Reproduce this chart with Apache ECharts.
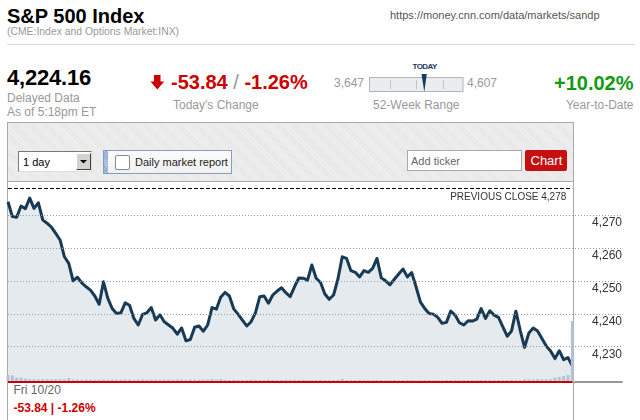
<!DOCTYPE html>
<html><head><meta charset="utf-8">
<script src="https://cdn.jsdelivr.net/npm/echarts@6/dist/echarts.min.js"></script>
<style>
html,body{margin:0;padding:0;background:#fff;}
body{width:640px;height:420px;overflow:hidden;position:relative;font-family:Arial,"Liberation Sans",sans-serif;}
.a{position:absolute;white-space:nowrap;line-height:1;}
#chart{position:absolute;left:0;top:0;width:640px;height:420px;}
</style></head><body>
<script>
// ---- data ----
const prices = [
 4274.0, 4269.5, 4269.3, 4272.7, 4271.9, 4275.1, 4272.0, 4273.7, 4268.5, 4267.5,
 4266.3, 4264.4, 4262.4, 4257.3, 4255.3, 4250.0, 4251.1, 4249.4, 4248.2, 4247.2,
 4245.4, 4242.9, 4249.7, 4244.7, 4241.6, 4240.1, 4240.3, 4243.3, 4242.6, 4238.6,
 4236.6, 4239.8, 4240.3, 4241.9, 4238.1, 4239.7, 4237.6, 4236.6, 4235.6, 4233.8,
 4235.7, 4231.8, 4232.2, 4235.9, 4236.3, 4234.7, 4236.6, 4241.9, 4241.4, 4245.0,
 4246.5, 4245.4, 4241.5, 4239.9, 4238.1, 4236.3, 4237.6, 4240.3, 4245.2, 4245.4,
 4243.2, 4245.7, 4246.9, 4247.9, 4246.4, 4245.2, 4248.2, 4250.9, 4250.8, 4250.2,
 4254.8, 4250.8, 4249.5, 4246.0, 4244.4, 4245.7, 4250.5, 4257.3, 4256.8, 4253.1,
 4252.6, 4251.2, 4253.1, 4252.6, 4253.8, 4256.8, 4250.9, 4250.0, 4248.8, 4250.5,
 4252.1, 4253.6, 4251.2, 4252.5, 4248.2, 4243.6, 4241.6, 4240.1, 4239.9, 4238.9,
 4237.1, 4237.4, 4240.8, 4239.6, 4237.3, 4236.6, 4237.9, 4237.8, 4238.4, 4241.6,
 4238.6, 4240.9, 4239.6, 4238.9, 4236.0, 4233.2, 4234.8, 4240.8, 4235.0, 4229.8,
 4234.2, 4235.7, 4234.8, 4232.5, 4230.2, 4228.7, 4226.4, 4228.8, 4226.1, 4226.7,
 4224.2
];
const volumes = [
 35,33,22,22,17,14,14,13,14,14,
 13,14,14,13,20,12,12,11,12,12,
 11,12,12,11,12,12,11,12,12,11,
 12,12,11,12,12,11,12,12,11,12,
 12,11,12,12,11,12,12,15,12,15,
 10,10,11,10,10,10,11,10,10,10,
 11,10,10,10,11,10,10,10,11,10,
 10,10,11,10,10,10,10,15,9,9,
 9,10,9,9,9,10,9,9,9,10,
 9,9,9,10,9,9,9,10,9,9,
 9,10,9,9,9,10,9,9,9,10,
 9,9,10,9,9,9,10,9,9,13,
 13,13,14,13,13,14,22,25,30,35,
 305
];
const gridTicks = [4230, 4240, 4250, 4260, 4270];
const prevClose = 4278;
const lastPrice = "4,224.16";
const change = "-53.84";
const changePct = "-1.26%";
const weekLow = "3,647";
const weekHigh = "4,607";
const ytd = "+10.02%";
</script>

<!-- header -->
<div class="a" style="left:7px;top:5.8px;font-size:20px;font-weight:bold;color:#000;">S&amp;P 500 Index</div>
<div class="a" style="left:7px;top:27.2px;font-size:10.4px;color:#999;">(CME:Index and Options Market:INX)</div>
<div class="a" style="left:390px;top:10px;font-size:11px;color:#555;">https://money.cnn.com/data/markets/sandp</div>
<div style="position:absolute;left:7px;top:44px;width:628px;height:1px;background:#dcdcdc;"></div>

<div class="a" id="lp" style="left:7px;top:67px;font-size:22px;font-weight:bold;color:#000;letter-spacing:-0.2px;"></div>
<div class="a" style="left:7px;top:92.2px;font-size:12px;color:#999;">Delayed Data</div>
<div class="a" style="left:7px;top:105.5px;font-size:12px;color:#999;">As of 5:18pm ET</div>

<svg style="position:absolute;left:0;top:0;" width="640" height="130">
  <polygon points="154,75 160.5,75 160.5,81.5 164.2,81.5 157.3,89.5 150.5,81.5 154,81.5" fill="#cc0000"/>
  <rect x="369.5" y="77.5" width="93.5" height="14" fill="#e9edf0" stroke="#b4b4b4"/>
  <line x1="390.5" y1="80" x2="390.5" y2="89" stroke="#c4c4c4"/>
  <line x1="416.5" y1="80" x2="416.5" y2="89" stroke="#c4c4c4"/>
  <line x1="443.5" y1="80" x2="443.5" y2="89" stroke="#c4c4c4"/>
  <polygon points="421.5,74 426.8,74 424.3,92" fill="#173a63"/>
</svg>
<div class="a" style="left:171px;top:72.4px;font-size:20px;font-weight:bold;color:#cc0000;"><span id="ch"></span> <span style="color:#999;font-weight:normal;">/</span> <span id="chp"></span></div>
<div class="a" style="left:173px;top:98.8px;font-size:12px;color:#999;">Today's Change</div>

<div class="a" id="wl" style="left:334px;top:77.1px;font-size:12px;color:#999;"></div>
<div class="a" id="wh" style="left:467px;top:77.1px;font-size:12px;color:#999;"></div>
<div class="a" style="left:412.5px;top:63.3px;font-size:8px;font-weight:bold;color:#173a63;letter-spacing:-0.6px;">TODAY</div>
<div class="a" style="left:373px;top:99.2px;font-size:12px;color:#999;">52-Week Range</div>

<div class="a" id="ytd" style="right:6.5px;top:73.1px;font-size:20px;font-weight:bold;color:#139a13;"></div>
<div class="a" style="right:6.5px;top:99.2px;font-size:12px;color:#999;">Year-to-Date</div>

<!-- panel -->
<div style="position:absolute;left:7px;top:122px;width:565px;height:298px;border:1px solid #a9a9a9;border-bottom:none;background:#fff;"></div>
<div style="position:absolute;left:8px;top:123px;width:565px;height:58px;border-bottom:1px solid #a9a9a9;background:repeating-linear-gradient(45deg,#efefef 0px,#efefef 1px,#e7e7e7 1px,#e7e7e7 2px);"></div>

<!-- select -->
<div style="position:absolute;left:18px;top:151px;width:72px;height:19px;border:1px solid #7a7a7a;border-right-color:#ddd;border-bottom-color:#ddd;background:#fff;"></div>
<div class="a" style="left:23px;top:157px;font-size:11px;color:#000;">1 day</div>
<div style="position:absolute;left:76px;top:153px;width:13px;height:15px;background:#d6d3ce;border:1px solid #fff;border-right-color:#404040;border-bottom-color:#404040;"></div>
<svg style="position:absolute;left:76px;top:153px;" width="15" height="17"><polygon points="4,7 11,7 7.5,10.5" fill="#000"/></svg>

<!-- daily market report -->
<div style="position:absolute;left:103px;top:150px;width:127px;height:22px;border:1px solid #8a9dbd;background:linear-gradient(#fbfbfb,#f0f0f0);"></div>
<div style="position:absolute;left:104px;top:151px;width:4px;height:22px;background:repeating-linear-gradient(45deg,#8eaad0 0px,#8eaad0 1px,#b8cbe4 1px,#b8cbe4 2px);"></div>
<div style="position:absolute;left:115px;top:155px;width:13px;height:13px;border:1px solid #8a8a8a;border-radius:2px;background:#fff;"></div>
<div class="a" style="left:135px;top:156.5px;font-size:11px;color:#222;">Daily market report</div>

<!-- add ticker -->
<div style="position:absolute;left:407px;top:150px;width:113px;height:19px;border:1px solid #a9a9a9;background:#fff;"></div>
<div class="a" style="left:411px;top:156px;font-size:11px;color:#666;">Add ticker</div>
<div style="position:absolute;left:525px;top:150px;width:42px;height:21px;background:#c5100f;border-radius:2px;"></div>
<div class="a" style="left:530.5px;top:154px;font-size:13px;color:#fff;">Chart</div>

<!-- footer of chart -->
<div class="a" style="left:13.5px;top:383.8px;font-size:12px;color:#666;">Fri 10/20</div>
<div class="a" style="left:13.5px;top:401.5px;font-size:12px;font-weight:bold;color:#cc0000;"><span id="ch2"></span> | <span id="chp2"></span></div>

<div id="chart"></div>
<script>
document.getElementById('lp').textContent = lastPrice;
document.getElementById('ch').textContent = change;
document.getElementById('chp').textContent = changePct;
document.getElementById('ch2').textContent = change;
document.getElementById('chp2').textContent = changePct;
document.getElementById('wl').textContent = weekLow;
document.getElementById('wh').textContent = weekHigh;
document.getElementById('ytd').textContent = ytd;

function fmt(v){ return String(v).replace(/\B(?=(\d{3})+(?!\d))/g, ','); }

const chart = echarts.init(document.getElementById('chart'), null, {renderer:'canvas'});
const lastIdx = prices.length - 1;
chart.setOption({
  animation: false,
  backgroundColor: 'transparent',
  textStyle: {fontFamily: 'Arial, "Liberation Sans", sans-serif'},
  grid: {left: 8, right: 18, top: 182, bottom: 38},
  xAxis: {
    type: 'value', min: 0, max: 141.45,
    axisLine: {show: true, onZero: false, lineStyle: {color: '#999', width: 2}},
    axisTick: {show: false}, axisLabel: {show: false}, splitLine: {show: false}
  },
  yAxis: [
    {type: 'value', min: 4219.3, max: 4280, show: false},
    {type: 'value', min: 0, max: 1000, show: false}
  ],
  series: [
    {
      type: 'line', z: 2, silent: true, showSymbol: false,
      data: prices.map((v, i) => [i, v]),
      lineStyle: {color: '#183a55', width: 3, join: 'round'},
      areaStyle: {color: '#e5eaef', origin: 'start', opacity: 1}
    },
    {
      type: 'line', z: 3, silent: true, data: [],
      markLine: {
        silent: true, symbol: ['none', 'none'], animation: false,
        data: gridTicks.map(v => ({
          yAxis: v,
          lineStyle: {color: '#999', type: [1, 2], width: 1},
          label: {show: true, position: 'insideEndBottom', formatter: fmt(v), color: '#333', fontSize: 12, distance: [0, 2]}
        })).concat([[
          {coord: [0, prevClose], lineStyle: {color: '#000', type: [4, 2], width: 1},
           label: {show: true, position: 'insideEndBottom', formatter: 'PREVIOUS CLOSE ' + fmt(prevClose), color: '#333', fontSize: 10, distance: [6, 3.5]}},
          {coord: [lastIdx, prevClose]}
        ]])
      }
    },
    {
      type: 'bar', z: 4, silent: true, yAxisIndex: 1, barWidth: 3,
      data: volumes.map((v, i) => [i, v]),
      itemStyle: {color: '#b3c2d6'},
      markLine: {
        silent: true, symbol: ['none', 'none'], animation: false,
        data: [[
          {coord: [0, 0], lineStyle: {color: '#cc0000', width: 2, type: 'solid'}, label: {show: false}},
          {coord: [lastIdx, 0]}
        ]]
      }
    }
  ]
});
</script>
</body></html>
